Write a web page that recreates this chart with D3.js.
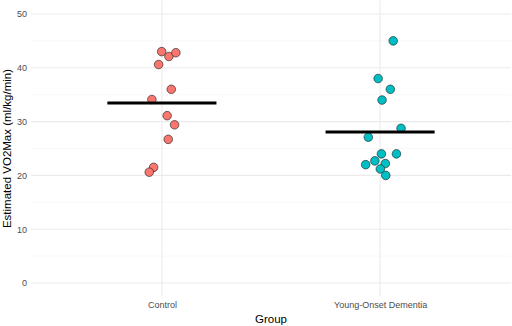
<!DOCTYPE html>
<html lang="en">
<head>
<meta charset="utf-8">
<title>VO2Max by group</title>
<script src="https://d3js.org/d3.v7.min.js"></script>
<style>
* { margin: 0; padding: 0; }
body { background: #fff; font-family: 'Liberation Sans', Arial, sans-serif; }
</style>
</head>
<body>
<script>
let w = 512, h = 326;
let panelLeft = 31, panelRight = 511, panelTop = 0.5, panelBottom = 296.5;

// data
let groups = ["Control", "Young-Onset Dementia"];
let controlVals = [43.0, 42.1, 42.8, 40.6, 36.0, 34.1, 31.1, 29.4, 26.7, 21.5, 20.6];
let controlJitter = [-0.001, 0.032, 0.064, -0.015, 0.043, -0.046, 0.024, 0.058, 0.029, -0.038, -0.058];
let yodVals = [45.0, 38.0, 36.0, 34.0, 28.75, 27.1, 24.0, 24.0, 22.7, 22.0, 22.2, 21.2, 20.0];
let yodJitter = [0.060, -0.009, 0.047, 0.009, 0.096, -0.054, 0.006, 0.075, -0.024, -0.066, 0.024, 0.001, 0.026];
let yTicks = [0, 10, 20, 30, 40, 50];
let yMinor = [5, 15, 25, 35, 45];
let colors = ["#F8766D", "#00BFC4"];

let series = [
  {group: groups[0], vals: controlVals, jit: controlJitter, color: colors[0]},
  {group: groups[1], vals: yodVals, jit: yodJitter, color: colors[1]}
];

let x = d3.scalePoint().domain(groups).range([panelLeft, panelRight]).padding(0.6);
let y = d3.scaleLinear().domain([-2.5, 52.5]).range([panelBottom, panelTop]);

let svg = d3.select("body").append("svg")
  .attr("width", w).attr("height", h);

// gridlines
svg.append("g").selectAll("line").data(yMinor).enter().append("line")
  .attr("x1", panelLeft).attr("x2", panelRight)
  .attr("y1", d => y(d)).attr("y2", d => y(d))
  .attr("stroke", "#f4f4f4").attr("stroke-width", 0.6);
svg.append("g").selectAll("line").data(yTicks).enter().append("line")
  .attr("x1", panelLeft).attr("x2", panelRight)
  .attr("y1", d => y(d)).attr("y2", d => y(d))
  .attr("stroke", "#ebebeb").attr("stroke-width", 1.1);
svg.append("g").selectAll("line").data(groups).enter().append("line")
  .attr("x1", d => x(d)).attr("x2", d => x(d))
  .attr("y1", panelTop).attr("y2", panelBottom)
  .attr("stroke", "#ebebeb").attr("stroke-width", 1.1);

// axes (labels only, like theme_minimal)
let yAxis = svg.append("g")
  .attr("transform", "translate(" + panelLeft + ",0)")
  .call(d3.axisLeft(y).tickValues(yTicks).tickSize(0).tickPadding(4));
let xAxis = svg.append("g")
  .attr("transform", "translate(0," + panelBottom + ")")
  .call(d3.axisBottom(x).tickSize(0).tickPadding(5));
[yAxis, xAxis].forEach(a => {
  a.select(".domain").remove();
  a.selectAll("text").attr("fill", "#4d4d4d").attr("font-size", 9)
    .attr("font-family", "'Liberation Sans', Arial, sans-serif");
});

// points
series.forEach(s => {
  svg.append("g").selectAll("circle").data(s.vals).enter().append("circle")
    .attr("cx", (d, i) => x(s.group) + s.jit[i] * x.step())
    .attr("cy", d => y(d))
    .attr("r", 4.3)
    .attr("fill", s.color)
    .attr("stroke", "#1a1a1a").attr("stroke-width", 0.6);
});

// mean bars
series.forEach(s => {
  let m = d3.mean(s.vals);
  svg.append("line")
    .attr("x1", x(s.group) - 0.25 * x.step())
    .attr("x2", x(s.group) + 0.25 * x.step())
    .attr("y1", y(m)).attr("y2", y(m))
    .attr("stroke", "#000").attr("stroke-width", 3);
});

// titles
svg.append("text").text("Group")
  .attr("x", (panelLeft + panelRight) / 2).attr("y", 323)
  .attr("text-anchor", "middle").attr("font-size", 11.5).attr("fill", "#000");
svg.append("text").text("Estimated VO2Max (ml/kg/min)")
  .attr("transform", "translate(11," + ((panelTop + panelBottom) / 2) + ") rotate(-90)")
  .attr("text-anchor", "middle").attr("font-size", 11.5).attr("fill", "#000");
</script>
</body>
</html>
